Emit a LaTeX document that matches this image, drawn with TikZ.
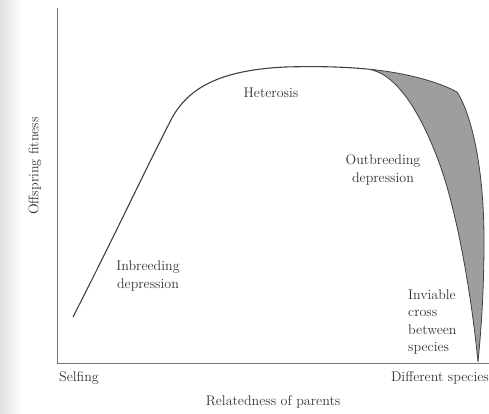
\documentclass[tikz,border=0pt]{standalone}
\usepackage{tikz}

\begin{document}
\begin{tikzpicture}[x=1pt, y=-1pt,
    lbl/.style={font=\fontsize{14}{17.5}\selectfont, text=black!80, align=center, inner sep=0pt},
    fitcurve/.style={draw=black!75, line width=1.1pt, line join=round}]
    \useasboundingbox (0,0) rectangle (489,413);

    % page shading at the left margin
    \shade[left color=black!12, right color=white] (0,0) rectangle (22,413);

    % axes
    \coordinate (ytop) at (57,8);
    \coordinate (orig) at (57,363);
    \coordinate (xend) at (489,363);
    \draw[black!55, line width=0.9pt] (ytop) -- (orig) -- (xend);

    % wedge between outbreeding and inviable cross
    \filldraw[fill=black!38, draw=black!75, line width=0.8pt]
        (367,69) .. controls (400,72) and (435,80) .. (457,92)
        .. controls (472,115) and (484,170) .. (484,240)
        .. controls (484,300) and (480,340) .. (478,362)
        .. controls (472,300) and (458,215) .. (440,165)
        .. controls (420,110) and (395,72) .. (367,69) -- cycle;

    % fitness curve
    \draw[fitcurve] (73,317) .. controls (115,235) and (150,160) .. (172,118)
        .. controls (190,85) and (225,70) .. (285,67)
        .. controls (320,66) and (345,67) .. (367,69);

    % labels on the curve
    \node[lbl] (het) at (271,93) {Heterosis};
    \node[lbl] (outb) at (383,170) {Outbreeding\\depression};
    \node[lbl] (inb) at (148,276) {Inbreeding\\depression};
    \node[lbl, align=left, anchor=west] (inv) at (408,322) {Inviable\\cross\\between\\species};

    % axis labels
    \node[lbl] (self) at (79,378) {Selfing};
    \node[lbl, anchor=east] (diff) at (489,378) {Different species};
    \node[lbl] (rel) at (273,402) {Relatedness of parents};
    \node[lbl, rotate=90] (fit) at (35,166) {Offspring fitness};
\end{tikzpicture}
\end{document}
